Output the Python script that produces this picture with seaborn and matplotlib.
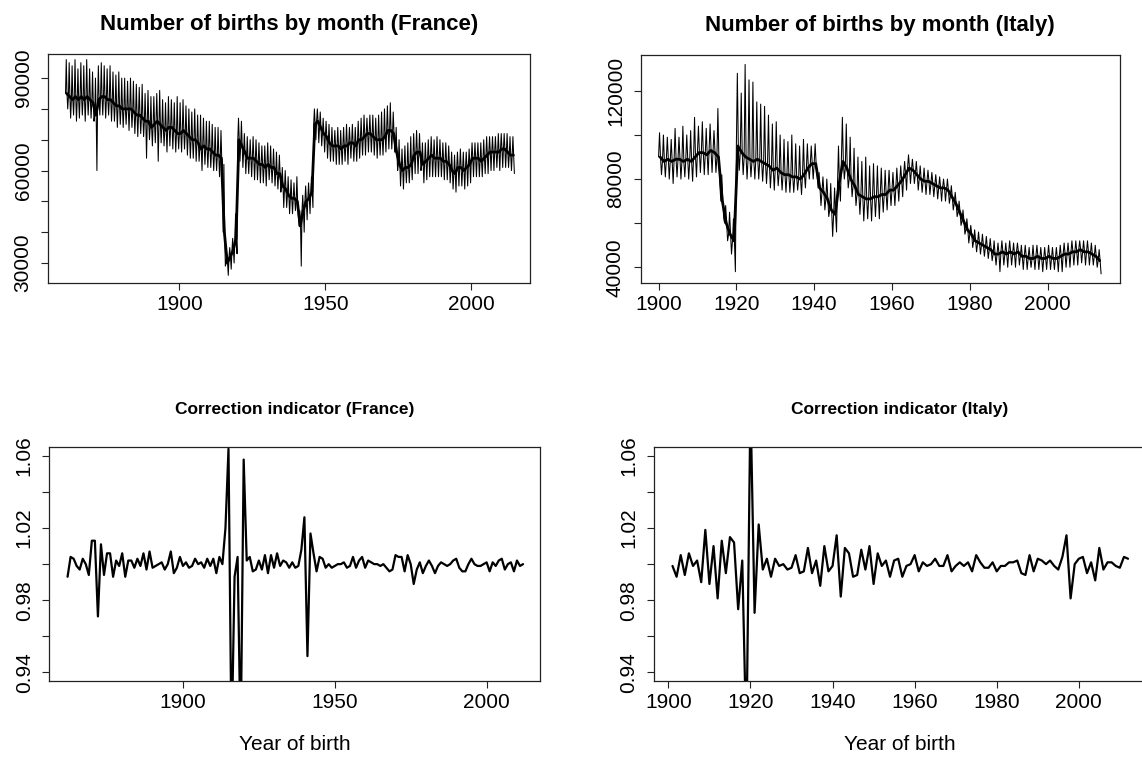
import numpy as np
import pandas as pd
import seaborn as sns
import matplotlib.pyplot as plt

# ---- monthly births: per year, typical level, upper spike and lower spike (thousands)
fr_years = list(range(1861, 2015))
fr_level = [85, 84, 83, 84, 83, 84, 83, 84, 83, 82,
            78, 83, 84, 84, 83, 83, 82, 81, 81, 80,
            80, 80, 80, 79, 78, 78, 77, 76, 76, 74,
            75, 76, 75, 74, 73, 74, 74, 73, 72, 72,
            73, 72, 71, 70, 70, 69, 67, 68, 67, 67,
            66, 65, 65, 64, 40, 30, 32, 34, 38, 70,
            68, 66, 64, 64, 64, 63, 62, 62, 61, 62,
            61, 61, 59, 59, 55, 54, 52, 51, 51, 50,
            42, 47, 50, 51, 53, 75, 76, 74, 72, 71,
            69, 68, 68, 68, 67, 68, 68, 69, 69, 68,
            70, 70, 71, 72, 72, 71, 70, 70, 70, 71,
            73, 73, 72, 66, 62, 60, 61, 61, 62, 65,
            66, 66, 62, 63, 64, 65, 64, 64, 64, 63,
            63, 62, 60, 59, 61, 61, 60, 61, 62, 64,
            64, 64, 63, 64, 65, 66, 66, 66, 66, 67,
            67, 66, 65, 65]
fr_high = [96, 95, 94, 96, 93, 95, 94, 96, 93, 92,
           90, 94, 95, 94, 93, 94, 92, 91, 92, 90,
           90, 89, 90, 89, 88, 87, 88, 85, 86, 84,
           84, 85, 86, 83, 82, 84, 83, 82, 84, 82,
           83, 81, 80, 79, 80, 78, 78, 77, 76, 76,
           75, 74, 74, 73, 62, 33, 35, 38, 46, 77,
           76, 72, 71, 70, 71, 70, 69, 68, 68, 69,
           68, 67, 66, 65, 61, 60, 58, 57, 56, 58,
           47, 52, 55, 56, 58, 80, 80, 79, 77, 76,
           75, 74, 73, 74, 73, 74, 75, 74, 75, 74,
           76, 77, 78, 77, 78, 78, 77, 78, 79, 80,
           81, 82, 79, 74, 70, 67, 68, 69, 71, 72,
           73, 72, 69, 69, 70, 71, 70, 71, 70, 69,
           69, 68, 66, 65, 66, 67, 66, 66, 67, 69,
           69, 69, 69, 70, 71, 71, 71, 71, 72, 72,
           72, 72, 71, 71]
fr_low = [80, 77, 78, 76, 77, 78, 76, 78, 77, 76,
          60, 78, 78, 77, 78, 76, 76, 74, 75, 74,
          75, 73, 74, 72, 71, 72, 71, 64, 70, 68,
          69, 63, 69, 68, 66, 68, 67, 66, 67, 66,
          67, 65, 64, 64, 63, 63, 60, 62, 61, 61,
          60, 60, 58, 58, 29, 26, 28, 30, 33, 63,
          61, 59, 59, 58, 57, 57, 56, 56, 55, 57,
          56, 55, 54, 53, 48, 48, 46, 46, 47, 45,
          29, 40, 44, 46, 48, 70, 69, 68, 66, 64,
          63, 63, 62, 62, 62, 63, 62, 64, 63, 63,
          64, 65, 65, 66, 66, 65, 64, 65, 65, 66,
          67, 67, 66, 60, 55, 54, 56, 56, 57, 59,
          59, 60, 56, 57, 58, 58, 58, 58, 58, 57,
          57, 56, 54, 53, 55, 55, 54, 55, 56, 58,
          58, 58, 58, 59, 59, 60, 60, 61, 60, 61,
          61, 61, 60, 59]

it_years = list(range(1900, 2014))
it_level = [90, 88, 89, 88, 89, 89, 88, 89, 88, 90,
            92, 92, 91, 93, 92, 90, 70, 60, 55, 52,
            95, 92, 90, 89, 88, 89, 88, 87, 86, 84,
            85, 83, 82, 82, 81, 81, 80, 82, 85, 87,
            87, 76, 74, 71, 66, 64, 78, 88, 85, 80,
            77, 73, 72, 71, 71, 72, 72, 73, 73, 75,
            75, 77, 79, 82, 85, 84, 82, 80, 79, 79,
            78, 77, 76, 76, 75, 72, 69, 65, 61, 57,
            55, 52, 51, 50, 49, 48, 46, 46, 47, 46,
            47, 46, 47, 45, 45, 44, 44, 45, 44, 44,
            45, 44, 44, 45, 46, 46, 47, 47, 48, 47,
            47, 46, 45, 43]
it_high = [101, 100, 99, 98, 103, 99, 104, 100, 102, 108,
           104, 106, 103, 105, 102, 112, 82, 68, 65, 62,
           128, 119, 132, 125, 124, 115, 114, 113, 109, 105,
           106, 100, 98, 97, 100, 96, 95, 98, 96, 95,
           96, 83, 81, 80, 78, 76, 95, 108, 105, 99,
           94, 90, 88, 90, 86, 87, 86, 85, 84, 84,
           83, 85, 86, 88, 91, 89, 88, 86, 85, 84,
           83, 82, 81, 80, 80, 77, 74, 70, 66, 62,
           59, 57, 56, 55, 54, 53, 52, 51, 52, 51,
           52, 51, 51, 50, 50, 49, 50, 50, 49, 49,
           50, 49, 49, 50, 51, 51, 52, 52, 52, 52,
           52, 51, 50, 48]
it_low = [82, 81, 80, 78, 81, 80, 81, 80, 79, 81,
          83, 82, 82, 83, 83, 78, 62, 52, 46, 38,
          84, 82, 80, 81, 80, 80, 79, 78, 76, 75,
          77, 75, 74, 74, 74, 75, 73, 76, 80, 80,
          82, 68, 66, 63, 54, 56, 70, 80, 76, 72,
          68, 64, 61, 62, 61, 63, 62, 65, 66, 68,
          68, 70, 72, 75, 78, 78, 75, 74, 73, 73,
          72, 71, 70, 70, 69, 66, 63, 59, 55, 51,
          49, 47, 46, 45, 44, 43, 41, 38, 41, 40,
          41, 40, 41, 39, 39, 40, 39, 39, 38, 39,
          39, 39, 38, 38, 40, 40, 41, 41, 42, 41,
          41, 41, 40, 37]

# ---- correction indicator by year of birth
fr_corr_years = list(range(1862, 2013))
fr_corr = [0.993, 1.004, 1.003, 0.999, 0.997, 1.003, 1.000, 0.994, 1.013,
           1.013, 0.971, 1.011, 0.994, 1.006, 1.006, 0.993, 1.002, 0.999, 1.006,
           0.993, 1.002, 1.002, 0.998, 1.003, 0.999, 1.006, 0.997, 1.007, 0.998,
           0.999, 1.000, 1.001, 0.997, 1.000, 1.007, 0.995, 0.998, 1.004, 0.999,
           1.001, 0.998, 0.999, 1.003, 1.000, 1.001, 0.998, 1.003, 0.999, 1.003,
           0.995, 1.004, 1.000, 1.020, 1.064, 0.900, 0.993, 1.004, 0.900, 1.058,
           1.002, 1.004, 0.996, 0.997, 1.002, 0.997, 1.005, 0.995, 1.005, 0.998,
           1.006, 0.999, 1.002, 1.001, 0.998, 1.001, 0.998, 0.999, 1.008, 1.026,
           0.949, 1.017, 1.006, 0.996, 1.004, 1.003, 0.998, 1.000, 0.998, 0.999,
           1.000, 1.000, 1.001, 0.998, 0.999, 1.004, 0.998, 1.002, 1.004, 0.998,
           1.002, 1.001, 1.000, 1.000, 0.999, 1.000, 0.998, 0.996, 0.997, 1.005,
           1.004, 1.004, 0.996, 1.005, 1.000, 0.989, 0.997, 1.001, 0.995, 0.999,
           1.002, 0.999, 0.995, 0.999, 1.001, 1.000, 0.999, 1.000, 1.002, 1.003,
           0.998, 0.996, 0.996, 1.000, 1.003, 1.000, 0.999, 0.999, 1.000, 1.001,
           0.996, 1.001, 0.999, 1.002, 1.003, 0.997, 1.000, 1.001, 0.996, 1.002,
           0.999, 1.000]

it_corr_years = list(range(1901, 2013))
it_corr = [0.999, 0.993, 1.005, 0.994, 1.006, 0.999, 1.002, 0.990, 1.019, 0.989,
           1.010, 0.981, 1.013, 0.995, 1.015, 1.012, 0.975, 1.002, 0.900, 1.090,
           0.973, 1.022, 0.997, 1.003, 0.993, 1.003, 0.999, 1.000, 0.997, 0.998,
           1.005, 0.995, 0.996, 1.009, 0.995, 1.002, 0.988, 1.010, 0.996, 0.999,
           1.016, 0.982, 1.009, 1.006, 0.993, 0.994, 1.008, 0.997, 1.010, 0.989,
           1.006, 0.999, 1.002, 0.993, 1.002, 1.003, 0.993, 0.999, 1.000, 1.005,
           0.996, 1.001, 0.999, 1.000, 1.003, 0.999, 0.999, 1.005, 0.996, 0.999,
           1.001, 0.999, 1.001, 0.996, 1.005, 1.001, 0.998, 0.998, 1.001, 0.996,
           0.999, 0.999, 1.001, 1.001, 1.002, 0.995, 0.994, 1.005, 0.996, 1.003,
           1.002, 1.000, 1.002, 0.999, 0.997, 1.004, 1.016, 0.981, 1.000, 1.003,
           1.004, 0.995, 1.001, 0.991, 1.009, 0.997, 1.001, 1.001, 0.999, 0.998,
           1.004, 1.003]


def monthly_frame(years, level, high, low):
    # lay the yearly level / spike values out along the year as a zigzag
    n = len(years)
    x = np.repeat(np.array(years, float), 4) + np.tile([0.0, 0.25, 0.5, 0.75], n)
    y = np.column_stack([level, high, level, low]).ravel() * 1000
    return pd.DataFrame({"time": x, "births": y})


def level_frame(years, level):
    # dense core of the monthly series
    return pd.DataFrame({"time": np.array(years, float) + 0.4,
                         "births": np.array(level) * 1000})


sns.set_style("white")
plt.rcParams["font.family"] = ["Liberation Sans", "DejaVu Sans"]
plt.rcParams["text.color"] = "black"
plt.rcParams["axes.labelcolor"] = "black"
plt.rcParams["xtick.color"] = "black"
plt.rcParams["ytick.color"] = "black"

fig = plt.figure(figsize=(11.42, 7.58), dpi=100)
ax_fr = fig.add_axes([0.0423, 0.6266, 0.4218, 0.3021])
ax_it = fig.add_axes([0.5610, 0.6263, 0.4197, 0.3012])
ax_cfr = fig.add_axes([0.0432, 0.1016, 0.4297, 0.3083])
ax_cit = fig.add_axes([0.5727, 0.1016, 0.4309, 0.3083])

for ax, yrs, lv, hi, lo in ((ax_fr, fr_years, fr_level, fr_high, fr_low),
                            (ax_it, it_years, it_level, it_high, it_low)):
    sns.lineplot(data=monthly_frame(yrs, lv, hi, lo), x="time", y="births",
                 ax=ax, color="black", lw=0.75, estimator=None, sort=False)
    sns.lineplot(data=level_frame(yrs, lv), x="time", y="births", ax=ax,
                 color="black", lw=2.0, estimator=None, sort=False)

sns.lineplot(x=fr_corr_years, y=fr_corr, ax=ax_cfr, color="black", lw=1.6,
             estimator=None, sort=False)
sns.lineplot(x=it_corr_years, y=it_corr, ax=ax_cit, color="black", lw=1.6,
             estimator=None, sort=False)

# R-style limits (4% padding around the data range)
ax_fr.set_xlim(1855.1, 2020.1)
ax_fr.set_ylim(23500, 97800)
ax_it.set_xlim(1895.4, 2018.6)
ax_it.set_ylim(32750, 136300)
ax_cfr.set_xlim(1856.0, 2017.6)
ax_cit.set_xlim(1896.5, 2016.4)
for ax in (ax_cfr, ax_cit):
    ax.set_ylim(0.9352, 1.0648)

ax_fr.set_xticks([1900, 1950, 2000])
ax_fr.set_yticks(range(30000, 90001, 10000))
ax_fr.set_yticklabels(["30000", "", "", "60000", "", "", "90000"])
ax_it.set_xticks(range(1900, 2001, 20))
ax_it.set_yticks(range(40000, 120001, 20000))
ax_it.set_yticklabels(["40000", "", "80000", "", "120000"])
ax_cfr.set_xticks([1900, 1950, 2000])
ax_cit.set_xticks(range(1900, 2001, 20))
for ax in (ax_cfr, ax_cit):
    ax.set_yticks([0.94, 0.96, 0.98, 1.00, 1.02, 1.04, 1.06])
    ax.set_yticklabels(["0.94", "", "0.98", "", "1.02", "", "1.06"])

for ax in (ax_fr, ax_it, ax_cfr, ax_cit):
    ax.set_xlabel("")
    ax.set_ylabel("")
    for s in ax.spines.values():
        s.set_visible(True)
        s.set_color("#222222")
        s.set_linewidth(0.9)
    ax.tick_params(direction="out", length=5.3, width=0.8, color="#222222",
                   labelsize=15, left=True, bottom=True)
    ax.tick_params(axis="x", pad=3.5)
    ax.tick_params(axis="y", pad=6)
    for lab in ax.get_yticklabels():
        lab.set_rotation(90)
        lab.set_va("center")

ax_fr.set_title("Number of births by month (France)", fontsize=16,
                fontweight="bold", pad=17)
ax_it.set_title("Number of births by month (Italy)", fontsize=16,
                fontweight="bold", pad=17)
ax_cfr.set_title("Correction indicator (France)", fontsize=12.5,
                 fontweight="bold", pad=24)
ax_cit.set_title("Correction indicator (Italy)", fontsize=12.5,
                 fontweight="bold", pad=24)
ax_cfr.set_xlabel("Year of birth", fontsize=15, labelpad=16.5)
ax_cit.set_xlabel("Year of birth", fontsize=15, labelpad=16.5)

fig.savefig("out.png", dpi=100)
plt.close(fig)
